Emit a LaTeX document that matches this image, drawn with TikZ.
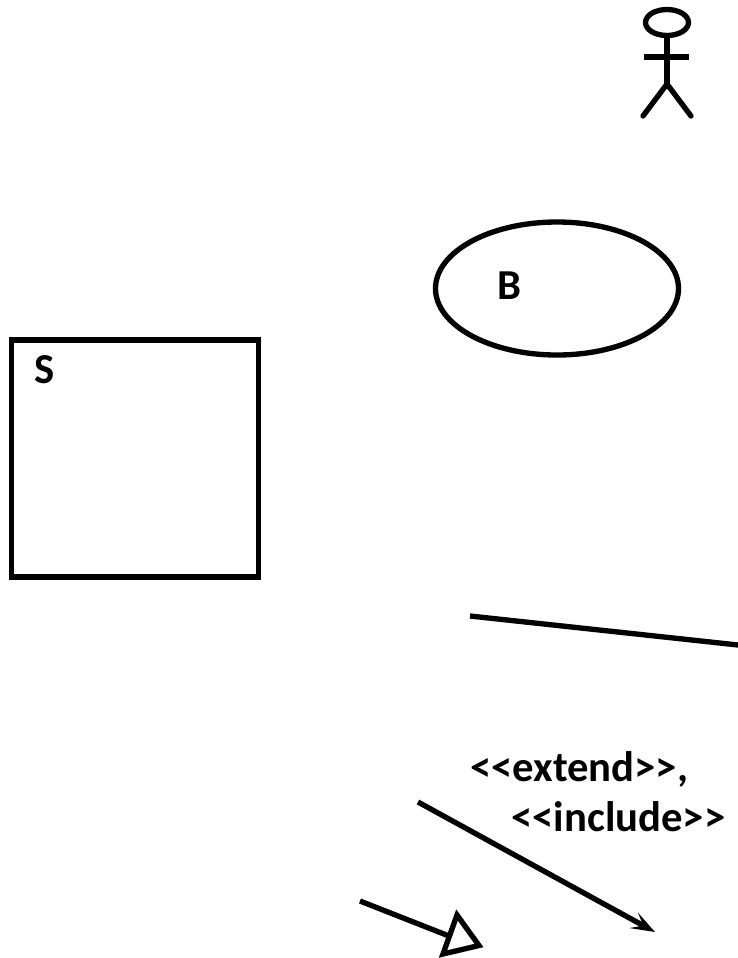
\documentclass[tikz,border=0pt]{standalone}
\usepackage{fontspec}
\setmainfont{Carlito}
\usetikzlibrary{
  positioning,
  shapes.geometric,
  arrows.meta
}
\tikzset{
  umlline/.style={line width=4pt},
  umllabel/.style={font=\fontsize{32}{36}\selectfont\bfseries, inner sep=0pt},
}

\begin{document}
\begin{tikzpicture}[x=0.75pt,y=-0.75pt]
	\useasboundingbox (0,0) rectangle (738,958);

	% actor
	\node[umlline,draw=black,ellipse,minimum width=43*0.75pt,minimum height=26*0.75pt,inner sep=0pt] (head) at (667,22.5) {};
	\coordinate (hip) at (667,84);
	\coordinate (armL) at (644,57);
	\coordinate (armR) at (689,57);
	\coordinate (footL) at (643,116);
	\coordinate (footR) at (691,116);
	\draw[umlline] (head.south) -- (hip);
	\draw[umlline] (armL) -- (armR);
	\draw[umlline,line cap=round] (footL) -- (hip) -- (footR);

	% use case
	\node[umlline,draw=black,ellipse,minimum width=243*0.75pt,minimum height=133*0.75pt,inner sep=0pt] (usecase) at (557,288.5) {};
	\node[umllabel] (labelB) at (509,286) {B};

	% system
	\node[umlline,draw=black,rectangle,minimum width=247*0.75pt,minimum height=237*0.75pt,inner sep=0pt] (system) at (135,458.5) {};
	\node[umllabel] (labelS) at (45,370) {S};

	% association
	\coordinate (assocA) at (470,616);
	\coordinate (assocB) at (738,645);
	\draw[umlline] (assocA) -- (assocB);

	% dependency
	\node[umllabel,anchor=west] (extend) at (470,769) {<{}<extend>{}>,};
	\node[umllabel,anchor=west] (include) at (511,817) {<{}<include>{}>};
	\coordinate (depA) at (418,802);
	\coordinate (depB) at (655,932);
	\draw[umlline,-{Stealth[length=18pt,width=13pt,inset=8pt]}] (depA) -- (depB);

	% generalization
	\coordinate (genA) at (360,901);
	\coordinate (genB) at (449,936);
	\coordinate (triA) at (457,915);
	\coordinate (triB) at (479,945.5);
	\coordinate (triC) at (443,954);
	\draw[umlline] (genA) -- (genB);
	\draw[umlline,miter limit=10] (triA) -- (triB) -- (triC) -- cycle;
\end{tikzpicture}
\end{document}
